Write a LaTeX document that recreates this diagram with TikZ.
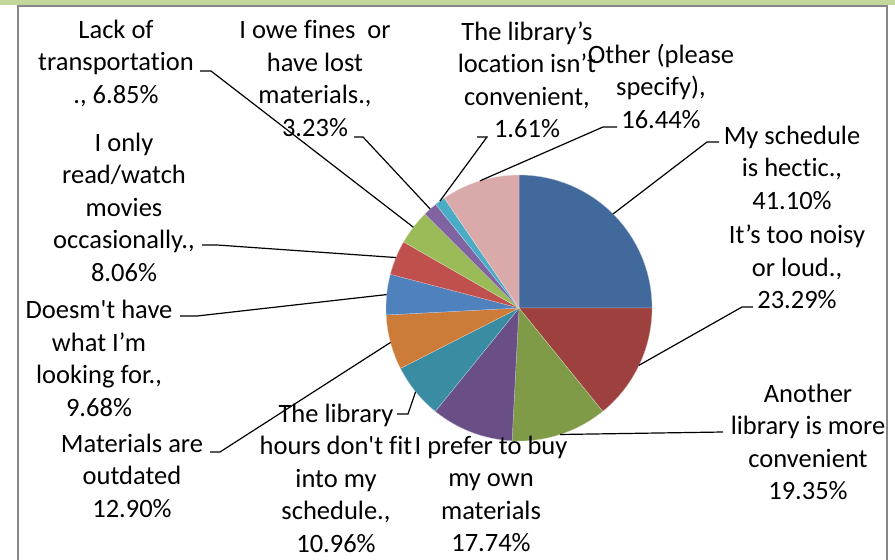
\documentclass[tikz,border=0pt]{standalone}
\usepackage{fontspec}
\setmainfont{Carlito}[Ligatures=CommonOff]
\definecolor{c1}{HTML}{41699B}
\definecolor{c2}{HTML}{9E413E}
\definecolor{c3}{HTML}{809B48}
\definecolor{c4}{HTML}{6A4F87}
\definecolor{c5}{HTML}{3A8CA3}
\definecolor{c6}{HTML}{CC7B38}
\definecolor{c7}{HTML}{4F81BD}
\definecolor{c8}{HTML}{C0504D}
\definecolor{c9}{HTML}{9BBB59}
\definecolor{c10}{HTML}{8064A2}
\definecolor{c11}{HTML}{4BACC6}
\definecolor{c12}{HTML}{D9AAA9}
\definecolor{barGreen}{HTML}{C3D69B}
\definecolor{frameGray}{HTML}{878787}
\newcommand\sq{\XeTeXglyph\XeTeXcharglyph"0027\relax}
\begin{document}
\begin{tikzpicture}[x=1pt,y=-1pt,
  lbl/.style={font=\fontsize{26.5}{32.5}\selectfont, align=center, inner sep=0pt},
  lead/.style={draw=black, line width=1.2pt, line join=miter}]
\useasboundingbox (0,0) rectangle (895,560);
\fill[white] (0,0) rectangle (895,560);
\fill[barGreen] (0,0) rectangle (895,4.5);
\draw[frameGray, line width=2pt] (17.5,575) -- (17.5,5.5) -- (887,5.5) -- (887,575);
% pie
\begin{scope}[shift={(519,308)}, y=1pt]
\def\R{133}
\foreach \a/\b/\c in {90/0/c1, 0/-51/c2, -51/-93/c3, -93/-129/c4, -129/-153/c5, -153/-177/c6,
  183/165.3/c7, 165.3/150.2/c8, 150.2/135/c9, 135/128.8/c10, 128.8/124.2/c11, 124.2/90/c12}
  \filldraw[fill=\c, draw=white!60!\c, line width=0.3pt] (0,0) -- (\a:\R) arc[start angle=\a, end angle=\b, radius=\R] -- cycle;
\coordinate (e1) at (142.6:\R);
\coordinate (e2) at (131.9:\R);
\coordinate (e3) at (126.5:\R);
\coordinate (e4) at (107.1:\R);
\coordinate (e5) at (45:\R);
\coordinate (e6) at (-25.5:\R);
\coordinate (e7) at (-72:\R);
\coordinate (e9) at (-141:\R);
\coordinate (e10) at (-165:\R);
\coordinate (e11) at (174.2:\R);
\coordinate (e12) at (157.7:\R);
\end{scope}
% labels
\node[lbl] (n1) at (116,63) {Lack of\\transportation\\., 6.85\%};
\node[lbl] (n2) at (315,78.5) {I owe fines~ or\\have lost\\materials.,\\3.23\%};
\node[lbl] (n3) at (527,80) {The library’s\\location isn’t\\convenient,\\1.61\%};
\node[lbl] (n4) at (661,86) {Other (please\\specify),\\16.44\%};
\node[lbl] (n5) at (792,167.5) {My schedule\\is hectic.,\\41.10\%};
\node[lbl] (n6) at (797,267) {It’s too noisy\\or loud.,\\23.29\%};
\node[lbl] (n7) at (808,442) {Another\\library is more\\convenient\\19.35\%};
\node[lbl] (n8) at (491,494) {I prefer to buy\\my own\\materials\\17.74\%};
\node[lbl] (n9) at (336,478) {The library\\hours don\sq t fit\\into my\\schedule.,\\10.96\%};
\node[lbl] (n10) at (132,475.5) {Materials are\\outdated\\12.90\%};
\node[lbl] (n11) at (99,358.5) {Doesm\sq t have\\what I’m\\looking for.,\\9.68\%};
\node[lbl] (n12) at (124,207) {I only\\read/watch\\movies\\occasionally.,\\8.06\%};
% leader start points
\coordinate (a1) at (200,71);
\coordinate (a2) at (354,137);
\coordinate (a3) at (477,137);
\coordinate (a4) at (617,127);
\coordinate (a5) at (719,142);
\coordinate (a6) at (753,307);
\coordinate (a7) at (723,432);
\coordinate (a9) at (397,414);
\coordinate (a10) at (210,452);
\coordinate (a11) at (180,316);
\coordinate (a12) at (202,245);
\draw[lead] (a1) -- ++(11,0) -- (e1);
\draw[lead] (a2) -- ++(9,0) -- (e2);
\draw[lead] (a3) -- ++(10,0) -- (e3);
\draw[lead] (a4) -- ++(-14,0) -- (e4);
\draw[lead] (a5) -- ++(-12,0) -- (e5);
\draw[lead] (a6) -- ++(-11,0) -- (e6);
\draw[lead] (a7) -- (e7);
\draw[lead] (a9) -- ++(11,0) -- (e9);
\draw[lead] (a10) -- ++(10,0) -- (e10);
\draw[lead] (a11) -- ++(17,0) -- (e11);
\draw[lead] (a12) -- ++(15,0) -- (e12);
\end{tikzpicture}
\end{document}
